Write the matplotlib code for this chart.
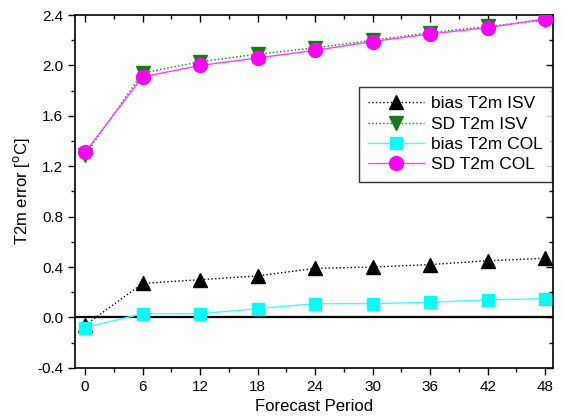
import matplotlib
matplotlib.use("Agg")
import matplotlib.pyplot as plt
from matplotlib.ticker import MultipleLocator

plt.rcParams['font.family'] = ['Liberation Sans', 'DejaVu Sans']

hours = [0, 6, 12, 18, 24, 30, 36, 42, 48]
bias_isv = [-0.06, 0.27, 0.30, 0.33, 0.39, 0.40, 0.42, 0.45, 0.47]
sd_isv = [1.29, 1.94, 2.03, 2.09, 2.14, 2.20, 2.26, 2.31, 2.36]
bias_col = [-0.08, 0.03, 0.03, 0.07, 0.11, 0.11, 0.12, 0.14, 0.15]
sd_col = [1.31, 1.91, 2.00, 2.06, 2.12, 2.19, 2.25, 2.30, 2.37]

fig = plt.figure(figsize=(5.65, 4.19), dpi=100)
ax = fig.add_axes([0.133, 0.122, 0.846, 0.842])

ax.axhline(0, color='black', lw=1.6, zorder=1)
ax.plot(hours, bias_isv, color='black', ls=':', lw=1, marker='^', ms=10,
        label='bias T2m ISV', zorder=3)
ax.plot(hours, sd_isv, color='green', ls=':', lw=1, marker='v', ms=10,
        mfc='#1a7a1a', mec='#1a7a1a', label='SD T2m ISV', zorder=3)
ax.plot(hours, bias_col, color='#40ffff', ls='-', lw=1, marker='s', ms=9,
        mfc='cyan', mec='cyan', label='bias T2m COL', zorder=4)
ax.plot(hours, sd_col, color='#ff40ff', ls='-', lw=1, marker='o', ms=10,
        mfc='magenta', mec='magenta', label='SD T2m COL', zorder=4)

ax.set_xlim(-1.04, 48.83)
ax.set_ylim(-0.4, 2.4)
ax.set_xticks(hours)
ax.xaxis.set_minor_locator(MultipleLocator(3))
ax.yaxis.set_major_locator(MultipleLocator(0.4))
ax.yaxis.set_minor_locator(MultipleLocator(0.2))
ax.yaxis.set_major_formatter(plt.FuncFormatter(lambda v, p: f"{v:.1f}"))

ax.tick_params(which='both', direction='out', labelsize=11, width=1)
ax.tick_params(which='major', length=5)
ax.tick_params(which='minor', length=3)
ax.tick_params(which='both', top=True, right=True)

# ticks inward on top and right spines
for t in ax.xaxis.get_major_ticks() + ax.xaxis.get_minor_ticks():
    t.tick2line.set_marker(3)
for t in ax.yaxis.get_major_ticks() + ax.yaxis.get_minor_ticks():
    t.tick2line.set_marker(0)

for s in ax.spines.values():
    s.set_linewidth(1.2)

ax.set_xlabel('Forecast Period', fontsize=12)
ax.set_ylabel('T2m error [$^{\\rm o}$C]', fontsize=12)

leg = ax.legend(loc='upper right', bbox_to_anchor=(0.998, 0.797), borderaxespad=0,
                fontsize=12.5, frameon=True, fancybox=False, edgecolor='black',
                handlelength=3.2, borderpad=0.55, labelspacing=0.3,
                handletextpad=0.4)
leg.get_frame().set_linewidth(1)

fig.savefig('out.png', dpi=100)
